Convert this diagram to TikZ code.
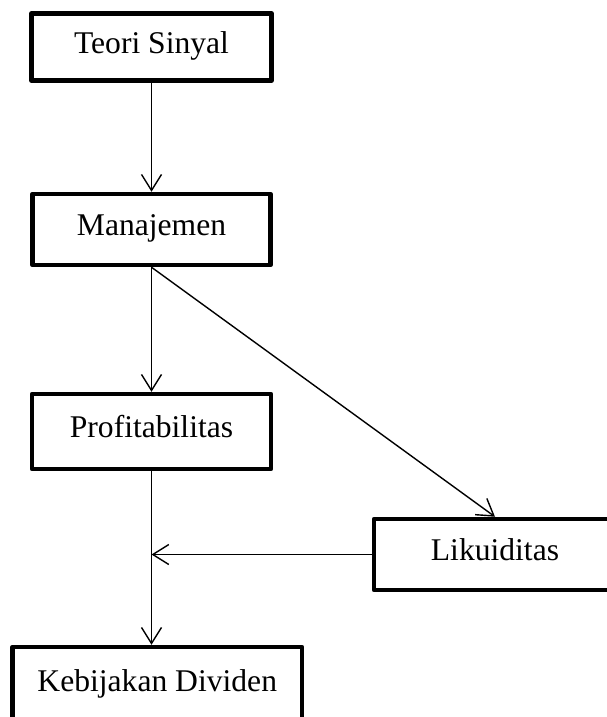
\documentclass[tikz,border=0pt]{standalone}
\usepackage{fontspec}
\setmainfont{Liberation Serif}
\usetikzlibrary{arrows.meta}
\begin{document}
\begin{tikzpicture}[x=1pt,y=-1pt,
  box/.style={draw=black,line width=4.5pt,line join=round,fill=white,inner sep=0pt,
    text height=20pt,text depth=8pt,font=\fontsize{31.6}{38}\selectfont},
  arr/.style={draw=black,line width=1.4pt,-{Straight Barb[length=16pt,width=20pt,line width=1.4pt]}},
  line/.style={draw=black,line width=1.4pt}]
\useasboundingbox (0,0) rectangle (607,717);
\node[box,minimum width=240pt,minimum height=67pt] (teori) at (151.5,47) {Teori Sinyal};
\node[box,minimum width=238pt,minimum height=71pt] (manaj) at (151.5,229.5) {Manajemen};
\node[box,minimum width=239pt,minimum height=75pt] (profit) at (151.5,431.5) {Profitabilitas};
\node[box,minimum width=242pt,minimum height=71pt] (likui) at (495,554.5) {Likuiditas};
\node[box,minimum width=289.5pt,minimum height=76pt] (kebij) at (157.25,685) {Kebijakan Dividen};
\draw[arr] (teori.south) -- (teori.south |- manaj.north);
\draw[arr] (manaj.south) -- (manaj.south |- profit.north);
\draw[arr] (manaj.south) -- (likui.north);
\draw[arr] (profit.south) -- (profit.south |- kebij.north);
\draw[arr] (likui.west) -- (likui.west -| profit.south);
\end{tikzpicture}
\end{document}
